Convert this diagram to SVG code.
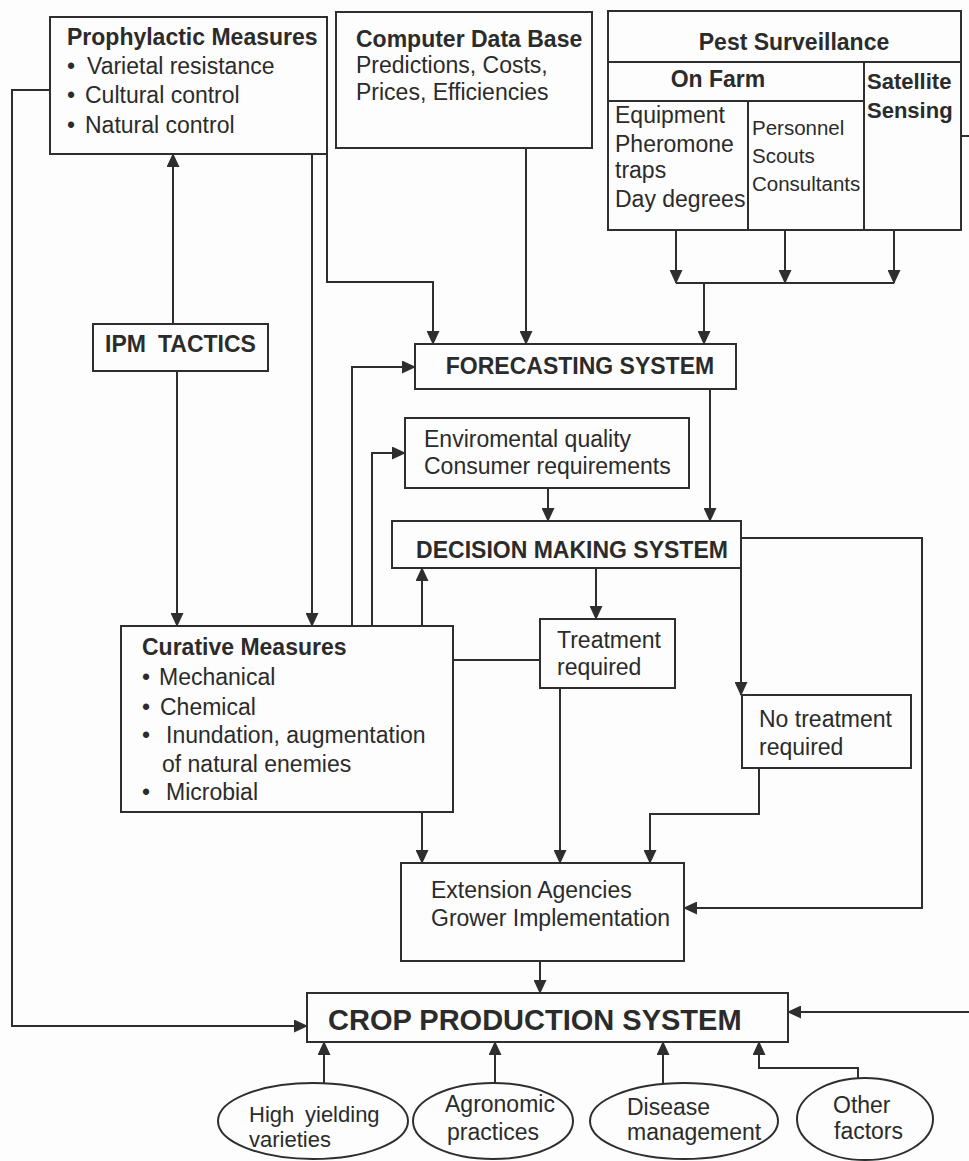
<svg xmlns="http://www.w3.org/2000/svg" width="969" height="1161" viewBox="0 0 969 1161">
<defs>
<marker id="ah" viewBox="0 0 14 13" refX="13" refY="6.5" markerWidth="14" markerHeight="13" markerUnits="userSpaceOnUse" orient="auto">
<path d="M0,0 L14,6.5 L0,13 z" fill="#2e2e2e"/>
</marker>
<style>
.bx{fill:none;stroke:#2e2e2e;stroke-width:2}
.ln{fill:none;stroke:#2e2e2e;stroke-width:2}
.ar{fill:none;stroke:#2e2e2e;stroke-width:2;marker-end:url(#ah)}
text{font-family:"Liberation Sans",Arial,sans-serif;font-size:23px;fill:#2b2b2b}
.b{font-weight:bold}
.s{font-size:20.5px}
.c{text-anchor:middle}
.e{font-size:22px}
</style>
</defs>
<rect width="969" height="1161" fill="#fdfdfd"/>

<g id="connectors">
<path class="ar" d="M50,90 H12 V1026 H307"/>
<path class="ar" d="M173,324 V154"/>
<path class="ar" d="M177,371 V626"/>
<path class="ar" d="M312,154 V626"/>
<path class="ar" d="M327,154 V282 H433 V344"/>
<path class="ar" d="M526,148 V344"/>
<path class="ar" d="M676,230 V283"/>
<path class="ar" d="M785,230 V283"/>
<path class="ar" d="M894,230 V283"/>
<path class="ln" d="M676,283 H894"/>
<path class="ar" d="M704,283 V344"/>
<path class="ar" d="M352,626 V367 H415"/>
<path class="ar" d="M372,626 V453 H405"/>
<path class="ar" d="M422,626 V568"/>
<path class="ar" d="M710,389 V521"/>
<path class="ar" d="M548,488 V521"/>
<path class="ar" d="M596,568 V619"/>
<path class="ar" d="M741,568 V695"/>
<path class="ar" d="M741,538 H922 V908 H684"/>
<path class="ln" d="M453,660 H540"/>
<path class="ar" d="M422,812 V863"/>
<path class="ar" d="M560,688 V863"/>
<path class="ar" d="M759,768 V814 H650 V863"/>
<path class="ar" d="M540,961 V993"/>
<path class="ar" d="M961,136 H975 V1012 H788"/>
<path class="ar" d="M324,1083 V1042"/>
<path class="ar" d="M495,1083 V1042"/>
<path class="ar" d="M663,1083 V1042"/>
<path class="ar" d="M858,1078 V1068 H759 V1042"/>
</g>

<g id="prophylactic">
<rect class="bx" x="50" y="17" width="277" height="137"/>
<text class="b" x="67" y="45">Prophylactic Measures</text>
<text x="67" y="74">•<tspan x="87">Varietal resistance</tspan></text>
<text x="67" y="103">•<tspan x="85">Cultural control</tspan></text>
<text x="67" y="133">•<tspan x="85">Natural control</tspan></text>
</g>

<g id="database">
<rect class="bx" x="336" y="12" width="256" height="136"/>
<text class="b" x="356" y="47">Computer Data Base</text>
<text x="356" y="73">Predictions, Costs,</text>
<text x="356" y="100">Prices, Efficiencies</text>
</g>

<g id="surveillance">
<rect class="bx" x="608" y="11" width="353" height="219"/>
<path class="ln" d="M608,62 H961 M608,101 H864 M864,62 V230 M748,101 V230"/>
<text class="b c" x="794" y="50">Pest Surveillance</text>
<text class="b c" x="718" y="87">On Farm</text>
<text class="b" x="867" y="89" style="font-size:22px">Satellite</text>
<text class="b" x="867" y="118" style="font-size:22px">Sensing</text>
<text x="615" y="123">Equipment</text>
<text x="615" y="152">Pheromone</text>
<text x="615" y="178">traps</text>
<text x="615" y="207">Day degrees</text>
<text class="s" x="752" y="135">Personnel</text>
<text class="s" x="752" y="163">Scouts</text>
<text class="s" x="752" y="191">Consultants</text>
</g>

<g id="ipm">
<rect class="bx" x="93" y="324" width="175" height="47"/>
<text class="b" x="105" y="352">IPM <tspan x="158">TACTICS</tspan></text>
</g>

<g id="forecasting">
<rect class="bx" x="415" y="344" width="321" height="45"/>
<text class="b c" x="580" y="374">FORECASTING SYSTEM</text>
</g>

<g id="environment">
<rect class="bx" x="405" y="418" width="284" height="70"/>
<text x="424" y="447">Enviromental quality</text>
<text x="424" y="474">Consumer requirements</text>
</g>

<g id="decision">
<rect class="bx" x="392" y="521" width="349" height="47"/>
<text class="b c" x="572" y="558">DECISION MAKING SYSTEM</text>
</g>

<g id="treatment">
<rect class="bx" x="540" y="619" width="135" height="69"/>
<text x="557" y="648">Treatment</text>
<text x="557" y="675">required</text>
</g>

<g id="notreatment">
<rect class="bx" x="742" y="695" width="169" height="73"/>
<text x="759" y="727">No treatment</text>
<text x="759" y="755">required</text>
</g>

<g id="curative">
<rect class="bx" x="121" y="626" width="332" height="186"/>
<text class="b" x="142" y="655">Curative Measures</text>
<text x="142" y="685">•<tspan x="159">Mechanical</tspan></text>
<text x="142" y="715">•<tspan x="160">Chemical</tspan></text>
<text x="142" y="743">•<tspan x="166">Inundation, augmentation</tspan></text>
<text x="162" y="772">of natural enemies</text>
<text x="142" y="800">•<tspan x="166">Microbial</tspan></text>
</g>

<g id="extension">
<rect class="bx" x="401" y="863" width="283" height="98"/>
<text x="431" y="898">Extension Agencies</text>
<text x="431" y="926">Grower Implementation</text>
</g>

<g id="crop">
<rect class="bx" x="307" y="993" width="481" height="49"/>
<text class="b" x="328" y="1030" style="font-size:29px">CROP PRODUCTION SYSTEM</text>
</g>

<g id="high-yielding">
<ellipse class="bx" cx="313" cy="1121" rx="95" ry="38"/>
<text class="e" x="249" y="1122">High <tspan x="305">yielding</tspan></text>
<text class="e" x="249" y="1147">varieties</text>
</g>

<g id="agronomic">
<ellipse class="bx" cx="493" cy="1121" rx="80" ry="38"/>
<text x="445" y="1112">Agronomic</text>
<text x="447" y="1140">practices</text>
</g>

<g id="disease">
<ellipse class="bx" cx="684" cy="1121" rx="94" ry="38"/>
<text x="627" y="1115">Disease</text>
<text x="627" y="1140">management</text>
</g>

<g id="other">
<ellipse class="bx" cx="865" cy="1119" rx="68" ry="41"/>
<text x="833" y="1113">Other</text>
<text x="834" y="1139">factors</text>
</g>
</svg>
